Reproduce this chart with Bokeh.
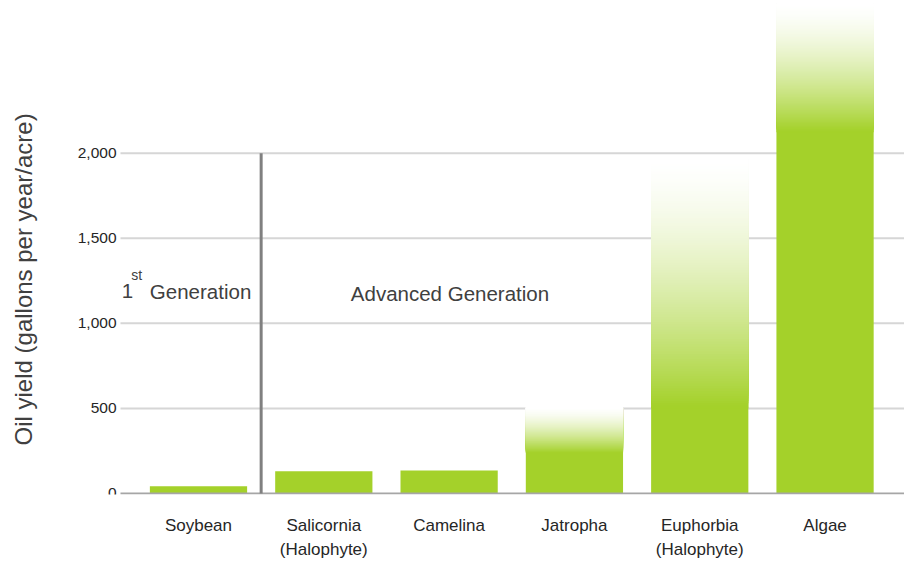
import numpy as np
from math import pi
from bokeh.plotting import figure
from bokeh.models import FixedTicker, Label, Range1d
from bokeh.embed import file_html
from bokeh.resources import INLINE

# ---------------- data ----------------
categories = ["Soybean", "Salicornia\n(Halophyte)", "Camelina", "Jatropha",
              "Euphorbia\n(Halophyte)", "Algae"]
solid_top = [43, 130, 135, 240, 515, 2130]     # fully green part of each bar
fade_top = [43, 130, 135, 505, 1966, 2880]     # where the gradient reaches white
y_ticks = [0, 500, 1000, 1500, 2000]
y_tick_labels = ["0", "500", "1,000", "1,500", "2,000"]
y_title = "Oil yield (gallons per year/acre)"
first_gen = ["1", "st", "Generation"]
adv_gen = "Advanced Generation"
divider_top = 2000

GREEN = (164, 209, 42)
FONT = "Liberation Sans"
TXT = "#404040"

x = np.arange(len(categories))
bar_w = 0.776
plot_left = -0.6225          # left end of the value-axis area (data units)
plot_right = 5.634

p = figure(width=904, height=564, output_backend="svg", toolbar_location=None,
           x_range=Range1d(-1.580, plot_right), y_range=Range1d(-6, 2897),
           min_border_left=0, min_border_right=0, min_border_top=0,
           min_border_bottom=70)
p.outline_line_color = None
p.background_fill_color = "white"
p.border_fill_color = "white"
p.xgrid.visible = False
p.ygrid.visible = False
p.yaxis.visible = False

# horizontal grid lines (only over the value area)
gy = y_ticks[1:]
p.segment(x0=[plot_left] * len(gy), y0=gy, x1=[plot_right] * len(gy), y1=gy,
          line_color="#d6d6d6", line_width=2)

# solid bars
hexg = "#%02x%02x%02x" % GREEN
p.vbar(x=x, top=solid_top, bottom=0, width=bar_w, fill_color=hexg, line_color=None)

# gradient parts (opaque, green -> white, eased)
N = 100
lefts, rights, bottoms, tops, colors = [], [], [], [], []
for i in range(len(categories)):
    s, f = solid_top[i], fade_top[i]
    if f <= s:
        continue
    edges = np.linspace(s, f, N + 1)
    starts = [s - (f - s) / N] + list(edges[:-1])
    ts = [1.0] + [(1.0 - (k + 0.5) / N) ** 1.5 for k in range(N)]
    for b, t in zip(starts, ts):
        c = tuple(int(round(255 + (g - 255) * t)) for g in GREEN)
        lefts.append(x[i] - bar_w / 2)
        rights.append(x[i] + bar_w / 2)
        bottoms.append(b)
        tops.append(f)
        colors.append("#%02x%02x%02x" % c)
p.quad(left=lefts, right=rights, bottom=bottoms, top=tops,
       fill_color=colors, line_color=None)

# category baseline
p.segment(x0=[plot_left], y0=[0], x1=[plot_right], y1=[0],
          line_color="#a6a6a6", line_width=2)

# divider between generations
divider_x = (x[0] + x[1]) / 2
p.segment(x0=[divider_x], y0=[0], x1=[divider_x], y1=[divider_top],
          line_color="#808080", line_width=3)

# value tick labels
p.text(x=[-0.654] * len(y_ticks), y=y_ticks, text=y_tick_labels,
       text_align="right", text_baseline="middle", text_font={"value": FONT},
       text_font_size="15.5px", text_color="#262626")

# category axis
p.xaxis.ticker = FixedTicker(ticks=list(x))
p.xaxis.major_label_overrides = {int(i): c for i, c in zip(x, categories)}
p.xaxis.axis_line_color = None
p.xaxis.major_tick_line_color = None
p.xaxis.minor_tick_line_color = None
p.xaxis.major_label_standoff = 15
p.xaxis.major_label_text_font = FONT
p.xaxis.major_label_text_font_size = "17px"
p.xaxis.major_label_text_color = "#262626"
p.xaxis.major_label_text_line_height = 1.3

# value-axis title
p.add_layout(Label(x=-1.400, y=1258, text=y_title, angle=pi / 2,
                   text_align="center", text_baseline="middle",
                   text_font=FONT, text_font_size="24px", text_color=TXT))

# generation annotations
p.add_layout(Label(x=-0.612, y=1189, text=first_gen[0], text_align="left",
                   text_baseline="alphabetic", text_font=FONT,
                   text_font_size="20.5px", text_color=TXT))
p.add_layout(Label(x=-0.536, y=1283, text=first_gen[1], text_align="left",
                   text_baseline="alphabetic", text_font=FONT,
                   text_font_size="14px", text_color=TXT))
p.add_layout(Label(x=-0.388, y=1189, text=first_gen[2], text_align="left",
                   text_baseline="alphabetic", text_font=FONT,
                   text_font_size="20.5px", text_color=TXT))
p.add_layout(Label(x=2.007, y=1177, text=adv_gen, text_align="center",
                   text_baseline="alphabetic", text_font=FONT,
                   text_font_size="20.5px", text_color=TXT))

open("out.html", "w").write(file_html(p, INLINE))
